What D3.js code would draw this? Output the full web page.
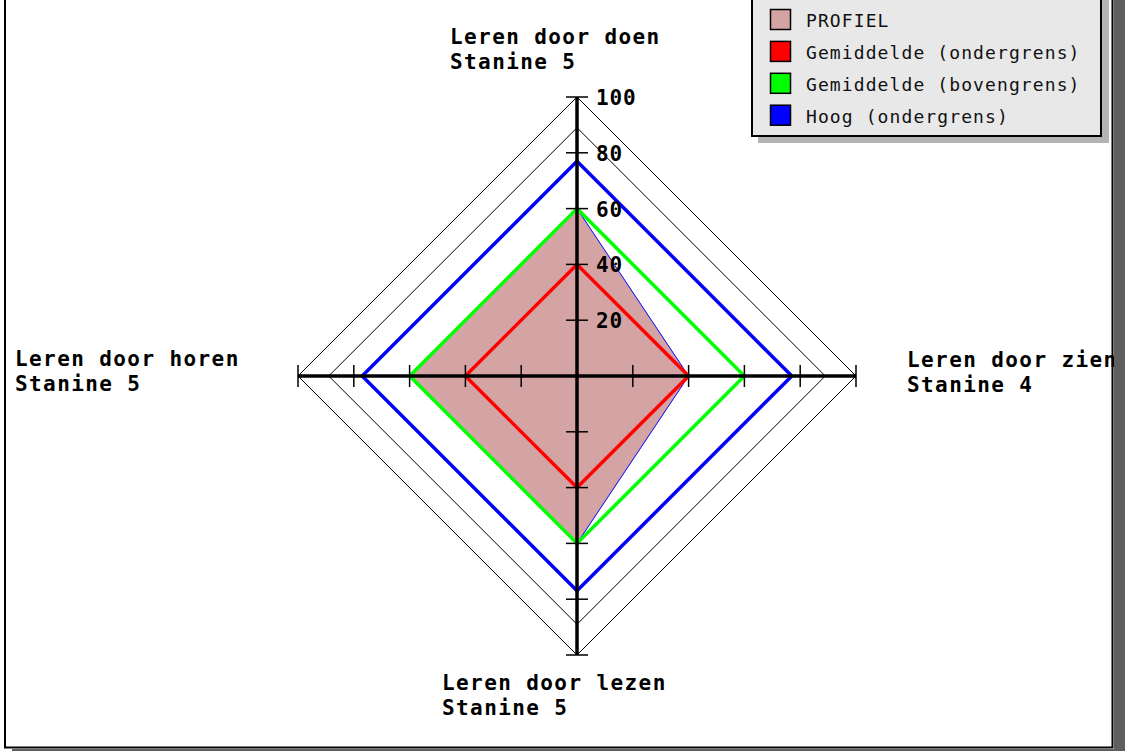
<!DOCTYPE html>
<html lang="nl">
    <head>
        <meta charset="utf-8">
        <title>Leerstijlen profiel</title>
        <script type="text/javascript" src="https://cdn.jsdelivr.net/npm/d3@7/dist/d3.min.js"></script>
        <style>
            body { margin: 0; background: #ffffff; }
            svg { display: block; }
        </style>
    </head>
    <body>

        <script type="text/javascript">

            //data
            var axisNames = ["Leren door doen", "Leren door zien", "Leren door lezen", "Leren door horen"];
            var stanines = ["Stanine 5", "Stanine 4", "Stanine 5", "Stanine 5"];
            var profiel = [60, 40, 60, 60];
            var gemOnder = [40, 40, 40, 40];
            var gemBoven = [60, 60, 60, 60];
            var hoogOnder = [77, 77, 77, 77];
            var rings = [89, 100];
            var tickValues = [20, 40, 60, 80, 100];
            var legendLabels = ["PROFIEL", "Gemiddelde (ondergrens)", "Gemiddelde (bovengrens)", "Hoog (ondergrens)"];
            var legendColors = ["#d4a4a4", "#ff0000", "#00ff00", "#0000ff"];

            //width and height
            var svgWidth = 1125;
            var svgHeight = 751;
            var cx = 577;
            var cy = 376;
            var radius = 279;

            var svg = d3.select("body")
                        .append("svg")
                        .attr("width", svgWidth)
                        .attr("height", svgHeight);

            var rScale = d3.scaleLinear()
                           .domain([0, 100])
                           .range([0, radius]);

            //axis i points up, right, down, left
            function angle(i) {
                return (-90 + 90 * i) * Math.PI / 180;
            }
            function point(v, i) {
                return [cx + rScale(v) * Math.cos(angle(i)), cy + rScale(v) * Math.sin(angle(i))];
            }

            var poly = d3.line().curve(d3.curveLinearClosed);

            function polygon(values) {
                return poly(values.map(function(v, i) { return point(v, i); }));
            }

            //profile fill
            svg.append("path")
               .attr("d", polygon(profiel))
               .attr("fill", "#d4a4a4")
               .attr("stroke", "#0000ff")
               .attr("stroke-width", 1);

            //reference lines
            var series = [gemOnder, gemBoven, hoogOnder];
            var seriesColors = ["#ff0000", "#00ff00", "#0000ff"];
            series.forEach(function(s, k) {
                svg.append("path")
                   .attr("d", polygon(s))
                   .attr("fill", "none")
                   .attr("stroke", seriesColors[k])
                   .attr("stroke-width", 3.5)
                   .attr("stroke-linejoin", "miter");
            });

            //grid rings
            rings.forEach(function(v) {
                svg.append("path")
                   .attr("d", polygon(axisNames.map(function() { return v; })))
                   .attr("fill", "none")
                   .attr("stroke", "#000")
                   .attr("stroke-width", 1);
            });

            //axes
            axisNames.forEach(function(name, i) {
                var end = point(100, i);
                svg.append("line")
                   .attr("x1", cx)
                   .attr("y1", cy)
                   .attr("x2", end[0])
                   .attr("y2", end[1])
                   .attr("stroke", "#000")
                   .attr("stroke-width", 3.5);

                //ticks perpendicular to the axis
                var px = -Math.sin(angle(i));
                var py = Math.cos(angle(i));
                svg.selectAll(null)
                   .data(tickValues)
                   .enter()
                   .append("line")
                   .attr("x1", function(d) { return point(d, i)[0] - 11 * px; })
                   .attr("y1", function(d) { return point(d, i)[1] - 11 * py; })
                   .attr("x2", function(d) { return point(d, i)[0] + 11 * px; })
                   .attr("y2", function(d) { return point(d, i)[1] + 11 * py; })
                   .attr("stroke", "#000")
                   .attr("stroke-width", 1.5);
            });

            var font = "'DejaVu Sans Mono', monospace";

            //tick labels on the top axis
            svg.selectAll(null)
               .data(tickValues)
               .enter()
               .append("text")
               .attr("x", cx + 19)
               .attr("y", function(d) { return point(d, 0)[1] + 8; })
               .attr("font-family", font)
               .attr("font-size", "21px")
               .attr("font-weight", "bold")
               .attr("letter-spacing", "0.8px")
               .text(function(d) { return d; });

            //axis labels
            var labelPos = [[450, 44], [907, 367], [442, 690], [15, 366]];
            axisNames.forEach(function(name, i) {
                var t = svg.append("text")
                           .attr("font-family", font)
                           .attr("font-size", "21px")
                           .attr("font-weight", "bold")
                           .attr("letter-spacing", "1.4px");
                t.append("tspan")
                 .attr("x", labelPos[i][0])
                 .attr("y", labelPos[i][1])
                 .text(name);
                t.append("tspan")
                 .attr("x", labelPos[i][0])
                 .attr("y", labelPos[i][1] + 25)
                 .text(stanines[i]);
            });

            //legend
            svg.append("rect")
               .attr("x", 758).attr("y", -10)
               .attr("width", 351).attr("height", 153)
               .attr("fill", "#b4b4b4");
            svg.append("rect")
               .attr("x", 752).attr("y", -10)
               .attr("width", 349).attr("height", 146)
               .attr("fill", "#e8e8e8")
               .attr("stroke", "#000")
               .attr("stroke-width", 2);

            var legend = svg.selectAll(".legend")
                            .data(legendLabels)
                            .enter()
                            .append("g")
                            .attr("class", "legend")
                            .attr("transform", function(d, i) {
                                return "translate(770," + (9 + i * 31.9) + ")";
                            });
            legend.append("rect")
                  .attr("x", 0.5).attr("y", 0.5)
                  .attr("width", 20).attr("height", 20)
                  .attr("fill", function(d, i) { return legendColors[i]; })
                  .attr("stroke", "#000")
                  .attr("stroke-width", 1.5);
            legend.append("text")
                  .attr("x", 36)
                  .attr("y", 18)
                  .attr("font-family", font)
                  .attr("font-size", "18px")
                  .attr("letter-spacing", "1.1px")
                  .attr("fill", "#111")
                  .text(function(d) { return d; });

            //frame and shadow
            svg.append("rect")
               .attr("x", 1114).attr("y", 0)
               .attr("width", 11).attr("height", svgHeight)
               .attr("fill", "#5f5f5f");
            svg.append("rect")
               .attr("x", 12).attr("y", 749)
               .attr("width", 1113).attr("height", 2)
               .attr("fill", "#5f5f5f");
            svg.append("path")
               .attr("d", "M5,0 V747.5 H1112.5 V0")
               .attr("fill", "none")
               .attr("stroke", "#000")
               .attr("stroke-width", 2);

        </script>
    </body>
</html>
